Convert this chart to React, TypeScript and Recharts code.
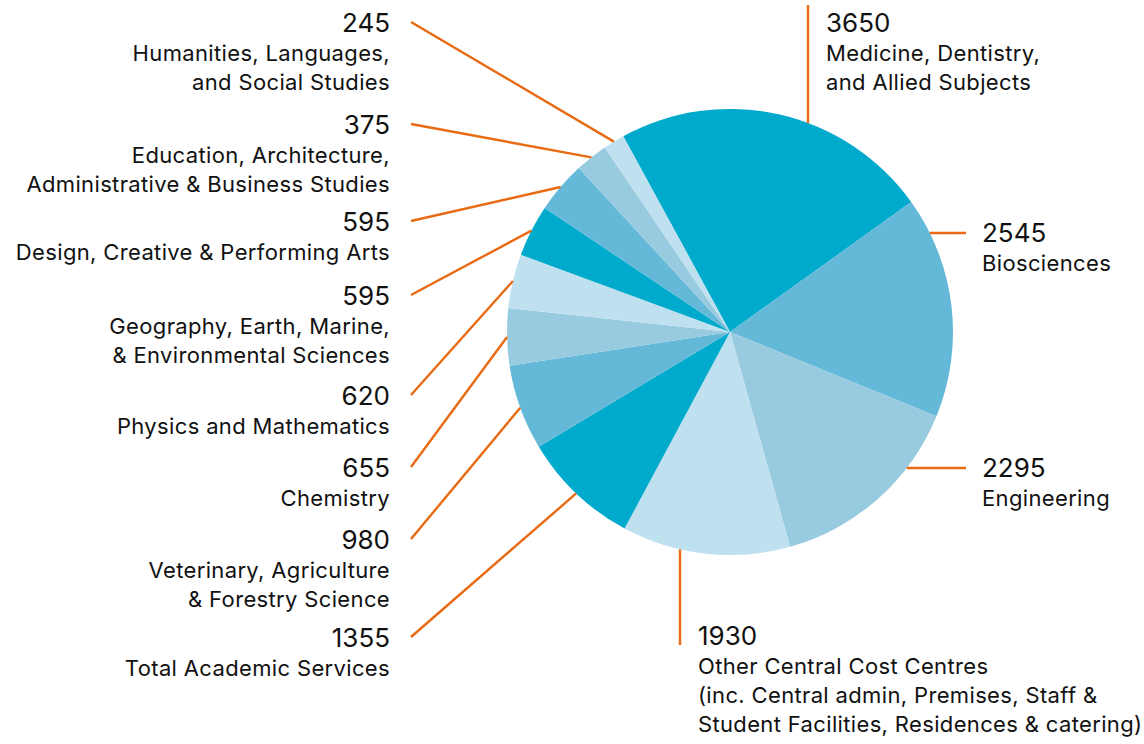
import React from 'react';
import { PieChart, Pie, Cell } from 'recharts';

// Spending by area (clockwise from the top)
const categories = [
  'Medicine, Dentistry, and Allied Subjects',
  'Biosciences',
  'Engineering',
  'Other Central Cost Centres',
  'Total Academic Services',
  'Veterinary, Agriculture & Forestry Science',
  'Chemistry',
  'Physics and Mathematics',
  'Geography, Earth, Marine, & Environmental Sciences',
  'Design, Creative & Performing Arts',
  'Education, Architecture, Administrative & Business Studies',
  'Humanities, Languages, and Social Studies',
];

const values = [3650, 2545, 2295, 1930, 1355, 980, 655, 620, 595, 595, 375, 245];

// how each category name is broken into lines on the page
const labelLines = [
  ['Medicine, Dentistry,', 'and Allied Subjects'],
  ['Biosciences'],
  ['Engineering'],
  [
    'Other Central Cost Centres',
    '(inc. Central admin, Premises, Staff &',
    'Student Facilities, Residences & catering)',
  ],
  ['Total Academic Services'],
  ['Veterinary, Agriculture', '& Forestry Science'],
  ['Chemistry'],
  ['Physics and Mathematics'],
  ['Geography, Earth, Marine,', '& Environmental Sciences'],
  ['Design, Creative & Performing Arts'],
  ['Education, Architecture,', 'Administrative & Business Studies'],
  ['Humanities, Languages,', 'and Social Studies'],
];

const sliceColors = ['#00aacc', '#64b8d8', '#98cbe0', '#bfe0ee'];
const LINE_COLOR = '#e86a12';
const FONT = 'Inter, "Noto Sans", sans-serif';

// where each label sits: text x, baseline of the number, leader style
// v = vertical leader, h = horizontal leader, d = diagonal to slice middle
const labelLayout = [
  { x: 826, y: 32, side: 'right', leader: 'v' },
  { x: 982, y: 242, side: 'right', leader: 'h' },
  { x: 982, y: 477, side: 'right', leader: 'h' },
  { x: 698, y: 645, side: 'right', leader: 'v' },
  { x: 390, y: 647, side: 'left', leader: 'd' },
  { x: 390, y: 549, side: 'left', leader: 'd' },
  { x: 390, y: 477, side: 'left', leader: 'd' },
  { x: 390, y: 405, side: 'left', leader: 'd' },
  { x: 390, y: 305, side: 'left', leader: 'd' },
  { x: 390, y: 231, side: 'left', leader: 'd' },
  { x: 390, y: 134, side: 'left', leader: 'd' },
  { x: 390, y: 32, side: 'left', leader: 'd' },
];

const data = categories.map((name, i) => ({ name, value: values[i] }));

const RAD = Math.PI / 180;

const renderLabel = (props: any) => {
  const { cx, cy, midAngle, outerRadius, index } = props;
  const lay = labelLayout[index];
  const r = outerRadius;
  let line: React.ReactNode = null;

  if (lay.leader === 'v') {
    const lx = lay.x - 18;
    const dy = Math.sqrt(Math.max(r * r - (lx - cx) * (lx - cx), 0));
    const edgeY = lay.y < cy ? cy - dy : cy + dy;
    const endY = lay.y < cy ? lay.y - 27 : lay.y;
    line = <line x1={lx} y1={endY} x2={lx} y2={edgeY} stroke={LINE_COLOR} strokeWidth={2.4} />;
  } else if (lay.leader === 'h') {
    const ly = lay.y - 9;
    const dx = Math.sqrt(Math.max(r * r - (ly - cy) * (ly - cy), 0));
    line = <line x1={cx + dx} y1={ly} x2={lay.x - 16} y2={ly} stroke={LINE_COLOR} strokeWidth={2.4} />;
  } else {
    const ex = cx + r * Math.cos(-midAngle * RAD);
    const ey = cy + r * Math.sin(-midAngle * RAD);
    line = <line x1={lay.x + 21} y1={lay.y - 10} x2={ex} y2={ey} stroke={LINE_COLOR} strokeWidth={2.4} />;
  }

  const anchor = lay.side === 'left' ? 'end' : 'start';
  return (
    <g key={`lbl-${index}`}>
      {line}
      <text x={lay.x} y={lay.y} textAnchor={anchor} fill="#111" fontFamily={FONT} fontSize={26}>
        {values[index]}
      </text>
      {labelLines[index].map((t, j) => (
        <text
          key={j}
          x={lay.x}
          y={lay.y + 29 * (j + 1)}
          textAnchor={anchor}
          fill="#111"
          fontFamily={FONT}
          fontSize={22}
          letterSpacing={0.35}
        >
          {t}
        </text>
      ))}
    </g>
  );
};

export default function App() {
  return (
    <div style={{ position: 'absolute', left: 0, top: 0, width: 1144, height: 744, background: '#fff' }}>
      <PieChart width={1144} height={744} margin={{ top: 0, right: 0, bottom: 0, left: 0 }}>
        <Pie
          data={data}
          dataKey="value"
          nameKey="name"
          cx={730}
          cy={332}
          outerRadius={223}
          startAngle={118.6}
          endAngle={-241.4}
          stroke="none"
          label={renderLabel}
          labelLine={false}
          isAnimationActive={false}
        >
          {data.map((d, i) => (
            <Cell key={d.name} fill={sliceColors[i % sliceColors.length]} />
          ))}
        </Pie>
      </PieChart>
    </div>
  );
}
